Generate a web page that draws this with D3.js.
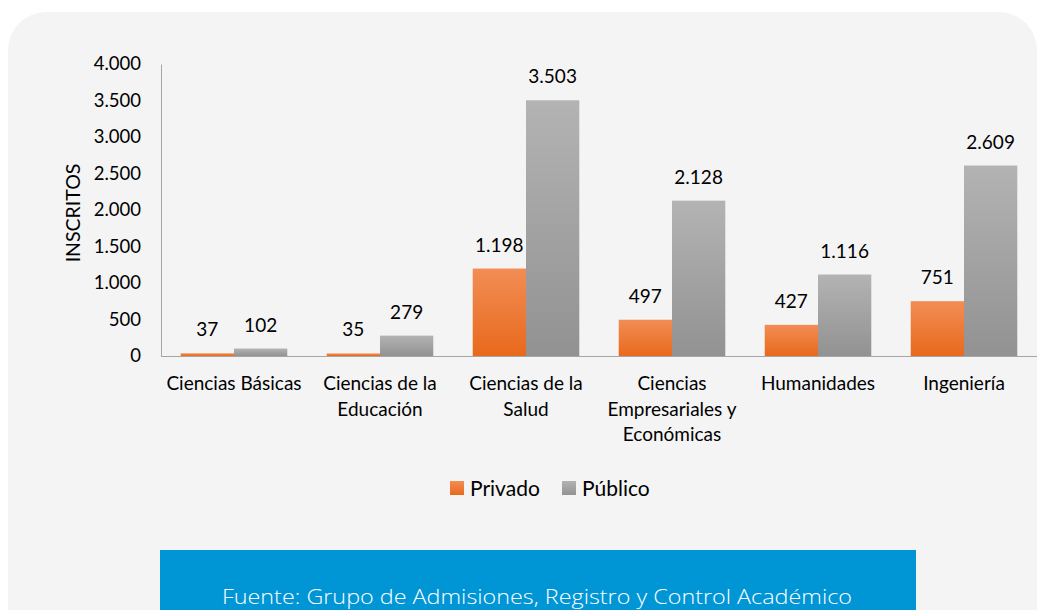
<!DOCTYPE html>
<html><head><meta charset="utf-8">
<script src="https://cdn.jsdelivr.net/npm/d3@7"></script>
<style>
html,body{margin:0;padding:0;background:#fff;}
svg{display:block;}
</style></head>
<body>
<svg id="chart" width="1049" height="610"></svg>
<script>
const categories = [
  ["Ciencias Básicas"],
  ["Ciencias de la", "Educación"],
  ["Ciencias de la", "Salud"],
  ["Ciencias", "Empresariales y", "Económicas"],
  ["Humanidades"],
  ["Ingeniería"]
];
const seriesNames = ["Privado", "Público"];
const privado = [37, 35, 1198, 497, 427, 751];
const publico = [102, 279, 3503, 2128, 1116, 2609];
const yTicks = [0, 500, 1000, 1500, 2000, 2500, 3000, 3500, 4000];
const yTitle = "INSCRITOS";
const source = "Fuente: Grupo de Admisiones, Registro y Control Académico";

(function () {
const svg = d3.select("#chart");
const font = "Lato, 'Open Sans', sans-serif";
const loc = d3.formatLocale({decimal: ",", thousands: ".", grouping: [3], currency: ["$", ""]});
const fmt = loc.format(",d");

const defs = svg.append("defs");
function grad(id, c1, c2) {
  const g = defs.append("linearGradient").attr("id", id).attr("x1", 0).attr("y1", 0).attr("x2", 0).attr("y2", 1);
  g.append("stop").attr("offset", "0%").attr("stop-color", c1);
  g.append("stop").attr("offset", "100%").attr("stop-color", c2);
}
grad("gOrange", "#f28d55", "#e8691c");
grad("gGray", "#b3b3b3", "#929292");
const fills = ["url(#gOrange)", "url(#gGray)"];

svg.append("rect").attr("x", 8).attr("y", 12).attr("width", 1029).attr("height", 640)
  .attr("rx", 38).attr("ry", 38).attr("fill", "#f4f4f4");

const pL = 161, pR = 1037, pT = 64, pB = 356;
const x0 = d3.scaleBand().domain(d3.range(categories.length)).range([pL, pR]).paddingInner(0.27).paddingOuter(0.135);
const x1 = d3.scaleBand().domain([0, 1]).range([0, x0.bandwidth()]);
const y = d3.scaleLinear().domain([0, 4000]).range([pB, pT]);

const yAxis = svg.append("g").attr("transform", `translate(${pL},0)`)
  .call(d3.axisLeft(y).tickValues(yTicks).tickFormat(fmt).tickSize(0).tickPadding(20));
yAxis.select(".domain").attr("stroke", "#a6a6a6").attr("stroke-width", 1);
yAxis.selectAll("text").attr("font-family", font).attr("font-size", 18.5).attr("fill", "#000");

const data = [privado, publico];
const groups = svg.append("g");
categories.forEach((c, i) => {
  data.forEach((s, k) => {
    groups.append("rect")
      .attr("x", x0(i) + x1(k)).attr("width", x1.bandwidth())
      .attr("y", y(s[i])).attr("height", pB - y(s[i]))
      .attr("fill", fills[k]);
    groups.append("text")
      .attr("x", x0(i) + x1(k) + x1.bandwidth() / 2).attr("y", y(s[i]) - 17)
      .attr("text-anchor", "middle").attr("font-family", font).attr("font-size", 19).attr("fill", "#000")
      .text(fmt(s[i]));
  });
});

svg.append("line").attr("x1", pL).attr("x2", pR).attr("y1", pB + 0.5).attr("y2", pB + 0.5)
  .attr("stroke", "#a6a6a6").attr("stroke-width", 1);

categories.forEach((c, i) => {
  const t = svg.append("text").attr("text-anchor", "middle").attr("font-family", font)
    .attr("font-size", 19).attr("fill", "#000");
  c.forEach((line, j) => {
    t.append("tspan").attr("x", x0(i) + x0.bandwidth() / 2).attr("y", 390 + j * 25.5).text(line);
  });
});

svg.append("text").attr("transform", "translate(80,213) rotate(-90)")
  .attr("text-anchor", "middle").attr("font-family", font).attr("font-size", 19.5).attr("fill", "#000")
  .text(yTitle);

const legX = [450, 562];
seriesNames.forEach((n, k) => {
  svg.append("rect").attr("x", legX[k]).attr("y", 481).attr("width", 14).attr("height", 14).attr("fill", fills[k]);
  svg.append("text").attr("x", legX[k] + 20).attr("y", 496).attr("font-family", font).attr("font-size", 21)
    .attr("fill", "#000").text(n);
});

svg.append("rect").attr("x", 160).attr("y", 550).attr("width", 756).attr("height", 70).attr("fill", "#0096d6");
svg.append("text").attr("x", 537).attr("y", 604).attr("text-anchor", "middle")
  .attr("font-family", "'Open Sans', Lato, sans-serif").attr("font-weight", 300).attr("font-size", 21)
  .attr("textLength", 630).attr("lengthAdjust", "spacingAndGlyphs")
  .attr("fill", "#fff").text(source);
})();
</script>
</body></html>
